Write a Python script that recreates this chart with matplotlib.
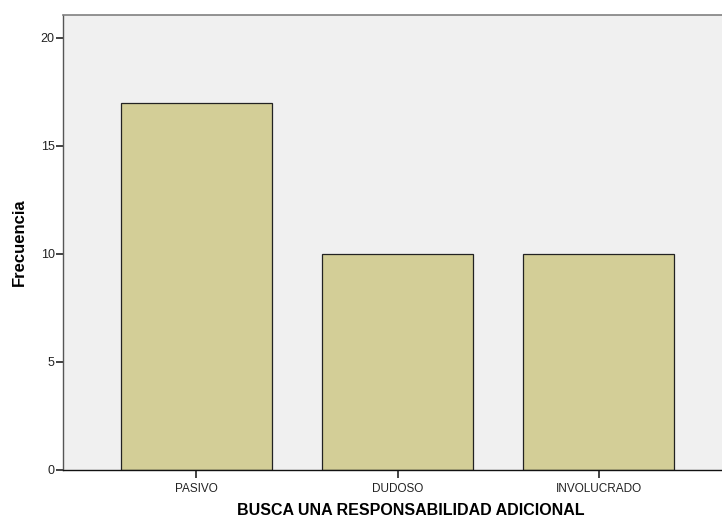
import matplotlib
matplotlib.use('Agg')
import matplotlib.pyplot as plt

categories = ['PASIVO', 'DUDOSO', 'INVOLUCRADO']
counts = [17, 10, 10]
yticks = [0, 5, 10, 15, 20]

plt.rcParams['font.family'] = ['Liberation Sans', 'DejaVu Sans']

W, H = 722, 519
fig = plt.figure(figsize=(W / 100, H / 100), dpi=100)
ax = fig.add_axes([63 / W, 49 / H, 1 - 63 / W, (470 - 15) / H])
ax.set_facecolor('#F0F0F0')

x = list(range(len(categories)))
ax.bar(x, counts, width=0.75, color='#D3CE97', edgecolor='#222222', linewidth=0.9, zorder=2)

ax.set_xlim(-0.664, 2.614)
ax.set_ylim(0, 21.06)
ax.set_xticks(x)
ax.set_xticklabels(categories, fontsize=8.5, color='#222222')
ax.set_yticks(yticks)
ax.set_yticklabels([str(v) for v in yticks], fontsize=9, color='#222222')
ax.tick_params(axis='y', length=5, width=1.2, pad=1, color='#222222')
ax.tick_params(axis='x', length=6, width=1.2, pad=3, color='#222222')

ax.spines['right'].set_visible(False)
ax.spines['top'].set_color('#808080')
ax.spines['top'].set_linewidth(1.2)
ax.spines['left'].set_color('#555555')
ax.spines['left'].set_linewidth(1.0)
ax.spines['bottom'].set_color('#111111')
ax.spines['bottom'].set_linewidth(1.0)

ax.set_xlabel('BUSCA UNA RESPONSABILIDAD ADICIONAL', fontsize=11.5, fontweight='bold')
ax.xaxis.set_label_coords((411 - 63) / (W - 63), -(503 - 470) / 455)
ax.set_ylabel('Frecuencia', fontsize=12, fontweight='bold')
ax.yaxis.set_label_coords(-(63 - 27) / (W - 63), 0.5)

fig.savefig('out.png', dpi=100)
